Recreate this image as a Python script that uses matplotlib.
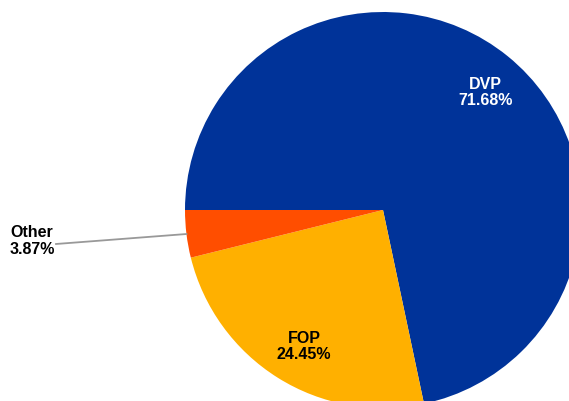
import numpy as np
import matplotlib
matplotlib.use("Agg")
import matplotlib.pyplot as plt

plt.rcParams["font.family"] = ["Liberation Sans", "DejaVu Sans"]

# data
labels = ["DVP", "FOP", "Other"]
shares = [71.68, 24.45, 3.87]
colors = ["#003399", "#FFB000", "#FF4E00"]
text_colors = ["white", "black", "black"]

W, H = 569, 401
cx, cy, R = 383, 210, 198  # pie centre / radius in pixels


def px(x, y):
    """pixel (from top-left) -> data coords of unit pie"""
    return (x - cx) / R, (cy - y) / R


fig = plt.figure(figsize=(W / 100, H / 100), dpi=100)
ax = fig.add_axes([0, 0, 1, 1])
ax.axis("off")

wedges, _ = ax.pie(
    shares,
    colors=colors,
    startangle=180,
    counterclock=False,
    radius=1,
    wedgeprops={"linewidth": 0},
)
ax.set_aspect("auto")
ax.set_xlim(px(0, 0)[0], px(W, 0)[0])
ax.set_ylim(px(0, H)[1], px(0, 0)[1])

for w, lab, val, tc in zip(wedges, labels, shares, text_colors):
    mid = np.deg2rad((w.theta1 + w.theta2) / 2)
    txt = f"{lab}\n{val:.2f}%"
    if val < 10:
        ex, ey = np.cos(mid), np.sin(mid)
        tx, ty = px(32, 241)
        lx, ly = px(56, 244)
        ax.plot([lx, ex], [ly, ey], color="#999999", lw=1.3)
        ax.text(tx, ty, txt, ha="center", va="center", fontsize=11.5,
                fontweight="bold", color=tc, linespacing=1.15)
    else:
        r = 0.79
        ax.text(r * np.cos(mid) + 0.02, r * np.sin(mid) - 0.02, txt,
                ha="center", va="center", fontsize=11.5, fontweight="bold",
                color=tc, linespacing=1.15)

fig.savefig("out.png", dpi=100, facecolor="white")
